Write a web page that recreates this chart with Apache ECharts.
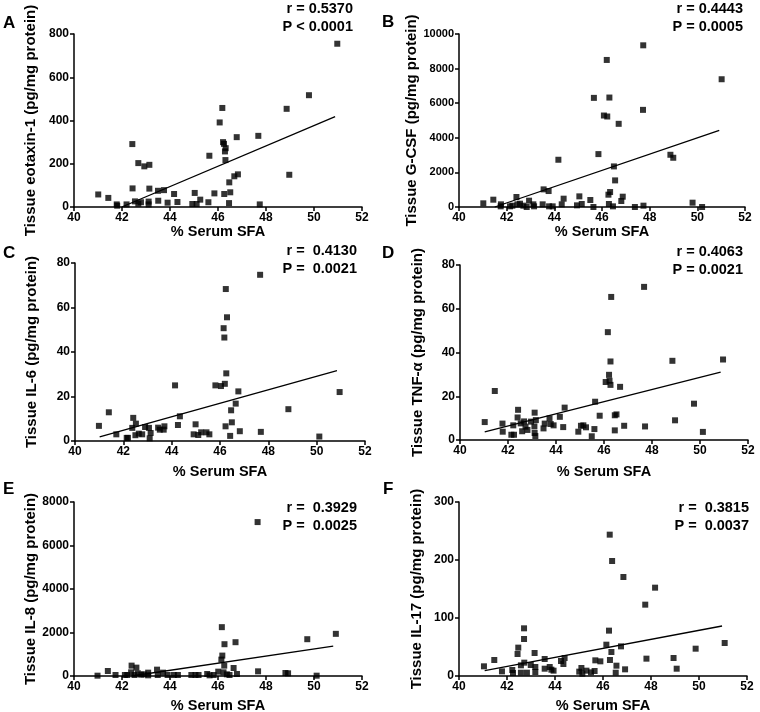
<!DOCTYPE html>
<html>
<head>
<meta charset="utf-8">
<script src="https://cdn.jsdelivr.net/npm/echarts@6/dist/echarts.min.js"></script>
<style>
  html, body { margin: 0; padding: 0; background: #fff; }
  #main { width: 760px; height: 712px; }
</style>
</head>
<body>
<div id="main"></div>
<script>
// % serum SFA (x) and tissue level (y) for each panel
const xA = [41.01, 41.43, 41.78, 41.8, 42.19, 42.43, 42.44, 42.54, 42.68, 42.68, 42.79, 42.93, 43.14, 43.14, 43.11, 43.11, 43.5, 43.51, 43.75, 43.9, 44.17, 44.31, 44.93, 45.03, 45.11, 45.26, 45.6, 45.64, 45.85, 46.07, 46.18, 46.21, 46.25, 46.32, 46.29, 46.31, 46.26, 46.46, 46.47, 46.51, 46.68, 46.83, 46.78, 47.68, 47.74, 48.86, 48.97, 49.79, 50.97];
const yA = [58, 42, 12, 6, 12, 291, 86, 26, 203, 15, 22, 188, 195, 85, 25, 12, 75, 29, 78, 20, 60, 23, 14, 65, 14, 34, 22, 237, 63, 391, 458, 300, 292, 272, 257, 217, 60, 18, 114, 68, 142, 151, 323, 329, 12, 454, 149, 517, 755];
const fitAx = [41.99, 50.88];
const fitAy = [0, 418];

const xB = [41.02, 41.44, 41.76, 41.75, 42.14, 42.24, 42.41, 42.45, 42.56, 42.7, 42.84, 42.94, 43.12, 43.15, 43.51, 43.55, 43.76, 43.78, 43.93, 44.17, 44.31, 44.39, 44.95, 45.05, 45.15, 45.51, 45.64, 45.66, 45.85, 46.08, 46.22, 46.2, 46.31, 46.27, 46.34, 46.29, 46.46, 46.5, 46.55, 46.7, 46.81, 46.87, 47.38, 47.73, 47.72, 47.74, 48.87, 48.99, 49.8, 50.2, 51.02];
const yB = [212, 423, 154, 38, 38, 77, 577, 154, 192, 77, 0, 365, 154, 38, 154, 1019, 923, 38, 38, 2731, 154, 481, 96, 615, 173, 404, 0, 6308, 3058, 5288, 5231, 8500, 6327, 712, 865, 173, 38, 2346, 1538, 4808, 346, 596, 0, 9346, 5615, 77, 3019, 2846, 250, 0, 7385];
const fitBx = [41.5, 50.92];
const fitBy = [0, 4423];

const xC = [40.99, 41.4, 41.71, 42.14, 42.19, 42.41, 42.37, 42.52, 42.5, 42.64, 42.78, 42.9, 43.06, 43.09, 43.13, 43.44, 43.51, 43.7, 43.67, 44.14, 44.26, 44.34, 44.91, 44.99, 45.1, 45.22, 45.44, 45.56, 45.81, 46.04, 46.15, 46.18, 46.2, 46.24, 46.26, 46.29, 46.23, 46.42, 46.46, 46.49, 46.65, 46.76, 46.82, 47.66, 47.69, 48.83, 50.11, 50.95];
const yC = [6.8, 12.9, 3.0, 1.4, 1.4, 10.4, 5.9, 7.8, 2.6, 3.3, 3.0, 6.3, 5.9, 1.2, 3.6, 6.0, 5.1, 6.6, 5.1, 25.0, 7.2, 11.1, 3.0, 7.5, 2.7, 3.9, 3.9, 3.0, 25.0, 24.7, 50.7, 46.5, 25.7, 68.3, 30.4, 55.6, 6.6, 2.3, 13.8, 8.4, 16.8, 22.3, 4.4, 74.7, 4.1, 14.3, 2.0, 22.0];
const fitCx = [41.02, 50.84];
const fitCy = [1.8, 31.6];

const xD = [41.03, 41.45, 41.77, 41.78, 42.14, 42.25, 42.22, 42.42, 42.4, 42.53, 42.59, 42.67, 42.73, 42.81, 42.96, 43.11, 43.1, 43.11, 43.14, 43.16, 43.48, 43.53, 43.73, 43.78, 43.9, 44.16, 44.3, 44.36, 44.93, 45.04, 45.14, 45.25, 45.49, 45.6, 45.63, 45.82, 46.07, 46.16, 46.21, 46.23, 46.27, 46.27, 46.3, 46.45, 46.52, 46.45, 46.67, 46.84, 47.67, 47.71, 48.85, 48.96, 49.75, 50.12, 50.96];
const yD = [8.2, 22.4, 7.5, 3.8, 2.4, 2.4, 6.7, 13.8, 10.3, 7.6, 4.0, 8.5, 6.1, 4.6, 8.4, 12.5, 6.2, 3.2, 1.8, 9.1, 5.3, 7.5, 9.9, 7.3, 6.7, 10.6, 5.9, 14.8, 3.8, 6.5, 6.7, 5.8, 1.7, 5.0, 17.5, 11.1, 26.5, 49.3, 29.8, 27.1, 25.2, 35.9, 65.4, 11.3, 11.7, 4.4, 24.3, 6.5, 70.0, 6.2, 36.2, 9.0, 16.6, 3.7, 36.8];
const fitDx = [41.03, 50.86];
const fitDy = [3.7, 31.0];

const xE = [40.98, 41.41, 41.73, 42.12, 42.22, 42.4, 42.38, 42.52, 42.6, 42.66, 42.8, 42.91, 43.09, 43.09, 43.46, 43.49, 43.71, 43.9, 44.16, 44.33, 44.89, 45.06, 45.19, 45.55, 45.65, 45.82, 46.01, 46.14, 46.18, 46.16, 46.26, 46.23, 46.27, 46.37, 46.48, 46.65, 46.73, 46.79, 47.65, 47.67, 48.81, 48.92, 49.72, 50.11, 50.91];
const yE = [15, 230, 46, 46, 46, 477, 169, 46, 385, 123, 62, 77, 154, 31, 292, 46, 154, 46, 46, 46, 46, 46, 46, 92, 31, 46, 200, 754, 938, 2246, 477, 169, 1462, 77, 46, 369, 1554, 92, 7077, 215, 138, 123, 1692, 15, 1938];
const fitEx = [42.4, 50.8];
const fitEy = [0, 1369];

const xF = [41.04, 41.47, 41.79, 42.22, 42.25, 42.44, 42.47, 42.58, 42.58, 42.71, 42.71, 42.72, 42.83, 42.99, 43.15, 43.18, 43.18, 43.57, 43.57, 43.78, 43.85, 43.94, 44.25, 44.35, 44.4, 45.01, 45.1, 45.14, 45.31, 45.5, 45.65, 45.68, 45.89, 46.14, 46.25, 46.28, 46.29, 46.35, 46.38, 46.53, 46.56, 46.75, 46.85, 46.92, 47.76, 47.81, 48.17, 48.94, 49.07, 49.86, 51.07];
const yF = [16.7, 27.6, 8.0, 10.3, 5.2, 37.9, 48.9, 5.7, 18.4, 82.2, 63.8, 23.0, 5.7, 19.0, 39.7, 15.5, 6.9, 29.3, 12.6, 15.5, 10.9, 9.2, 25.9, 20.7, 31.0, 7.5, 13.8, 4.0, 9.2, 6.3, 8.6, 27.0, 25.3, 54.0, 78.2, 243.7, 27.6, 41.4, 198.3, 5.7, 17.8, 51.1, 170.7, 11.5, 123, 29.9, 152.3, 31.0, 12.6, 47.1, 56.9];
const fitFx = [41.07, 50.96];
const fitFy = [9.2, 86.2];

const yNames = ['Tissue eotaxin-1 (pg/mg protein)', 'Tissue G-CSF (pg/mg protein)', 'Tissue IL-6 (pg/mg protein)', 'Tissue TNF-\u03b1 (pg/mg protein)', 'Tissue IL-8 (pg/mg protein)', 'Tissue IL-17 (pg/mg protein)'];
const yMaxes = [800, 10000, 80, 80, 8000, 300];
const ySteps = [200, 2000, 20, 20, 2000, 100];
const rTexts = ['r = 0.5370', 'r = 0.4443', 'r =  0.4130', 'r = 0.4063', 'r =  0.3929', 'r =  0.3815'];
const pTexts = ['P < 0.0001', 'P = 0.0005', 'P =  0.0021', 'P = 0.0021', 'P =  0.0025', 'P =  0.0037'];
const letters = ['A', 'B', 'C', 'D', 'E', 'F'];

const xs = [xA, xB, xC, xD, xE, xF];
const ys = [yA, yB, yC, yD, yE, yF];
const fitXs = [fitAx, fitBx, fitCx, fitDx, fitEx, fitFx];
const fitYs = [fitAy, fitBy, fitCy, fitDy, fitEy, fitFy];

// layout of the six panels (pixels)
const grids = [
    { left: 74, top: 34, width: 288, height: 173 },
    { left: 459, top: 34, width: 286, height: 173 },
    { left: 75, top: 263, width: 290, height: 178 },
    { left: 460, top: 265, width: 288, height: 175 },
    { left: 74, top: 502, width: 288, height: 174 },
    { left: 459, top: 502, width: 288, height: 174 }
];
const xNameGaps = [16, 16, 23, 24, 22, 22];
const statRight = [353, 743, 357, 743, 357, 749];
const statTop = [9, 9, 251, 252, 508, 508];
const letterPos = [[3, 24], [382, 23], [3, 254], [382, 254], [3, 490], [383, 490]];

const FONT = 'Liberation Sans, Arial, sans-serif';
const axisStyle = { lineStyle: { color: '#000', width: 1.5 } };

const option = {
    animation: false,
    backgroundColor: '#fff',
    grid: grids.map(g => Object.assign({ outerBoundsMode: 'none', containLabel: false }, g)),
    xAxis: grids.map((g, i) => ({
        type: 'value',
        gridIndex: i,
        min: 40,
        max: 52,
        interval: 2,
        name: '% Serum SFA',
        nameLocation: 'middle',
        nameGap: xNameGaps[i],
        nameTextStyle: { fontFamily: FONT, fontWeight: 'bold', fontSize: 14.5, color: '#000', verticalAlign: 'top' },
        axisLine: axisStyle,
        axisTick: { show: true, inside: false, length: 4, lineStyle: { color: '#000', width: 1.5 } },
        axisLabel: { fontFamily: FONT, fontWeight: 'bold', fontSize: 12, color: '#000', margin: 5 },
        splitLine: { show: false }
    })),
    yAxis: grids.map((g, i) => ({
        type: 'value',
        gridIndex: i,
        min: 0,
        max: yMaxes[i],
        interval: ySteps[i],
        name: yNames[i],
        nameLocation: 'middle',
        nameGap: i % 2 === 0 ? 36 : 35,
        nameTextStyle: { fontFamily: FONT, fontWeight: 'bold', fontSize: 15, color: '#000' },
        axisLine: { show: true, lineStyle: { color: '#000', width: 1.5 } },
        axisTick: { show: true, inside: false, length: 4, lineStyle: { color: '#000', width: 1.5 } },
        axisLabel: {
            fontFamily: FONT, fontWeight: 'bold', fontSize: i === 1 ? 11 : 12, color: '#000', margin: 5,
            formatter: v => String(v)
        },
        splitLine: { show: false }
    })),
    series: [],
    graphic: []
};

for (let i = 0; i < 6; i++) {
    option.series.push({
        type: 'scatter',
        xAxisIndex: i,
        yAxisIndex: i,
        symbol: 'rect',
        symbolSize: 6,
        itemStyle: { color: '#000' },
        data: xs[i].map((x, k) => [x, ys[i][k]])
    });
    option.series.push({
        type: 'line',
        xAxisIndex: i,
        yAxisIndex: i,
        showSymbol: false,
        symbol: 'none',
        lineStyle: { color: '#000', width: 1.3 },
        data: fitXs[i].map((x, k) => [x, fitYs[i][k]])
    });
    option.graphic.push({
        type: 'text',
        left: letterPos[i][0],
        top: letterPos[i][1] - 9,
        style: { text: letters[i], fill: '#000', font: 'bold 17px ' + FONT }
    });
    option.graphic.push({
        type: 'text',
        x: statRight[i],
        y: statTop[i],
        style: { text: rTexts[i], fill: '#000', font: 'bold 14.5px ' + FONT, textAlign: 'right', textVerticalAlign: 'middle' }
    });
    option.graphic.push({
        type: 'text',
        x: statRight[i],
        y: statTop[i] + 18,
        style: { text: pTexts[i], fill: '#000', font: 'bold 14.5px ' + FONT, textAlign: 'right', textVerticalAlign: 'middle' }
    });
}

const myChart = echarts.init(document.getElementById('main'));
myChart.setOption(option);
</script>
</body>
</html>
